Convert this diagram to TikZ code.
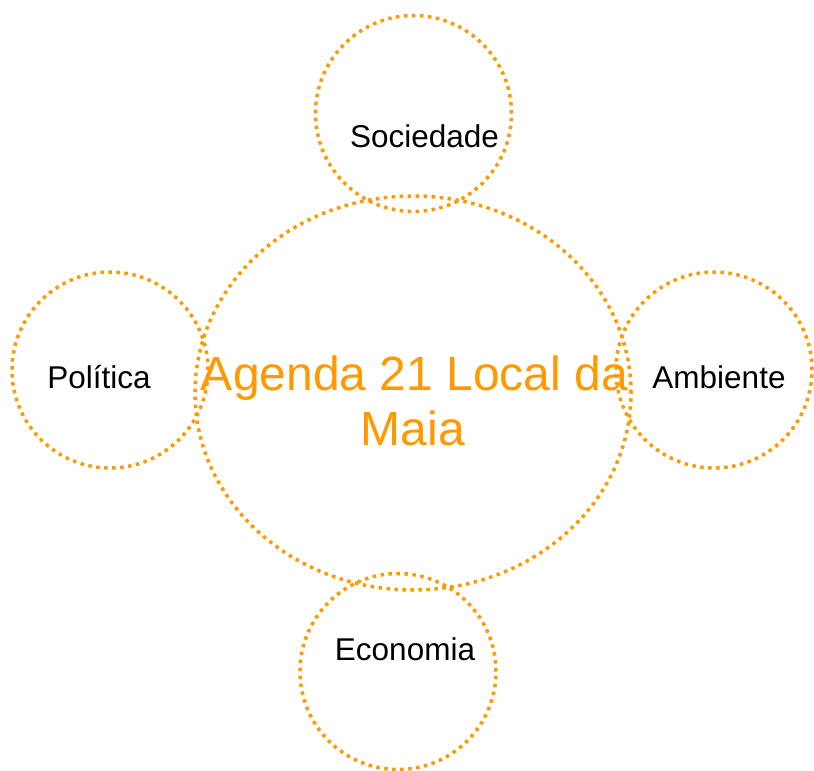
\documentclass[tikz,border=0pt]{standalone}
\usepackage{fontspec}
\setmainfont{Liberation Sans}
\usetikzlibrary{shapes.geometric}
\definecolor{agendaorange}{RGB}{255,153,0}
\begin{document}
\begin{tikzpicture}
[x=1pt,y=-1pt,
  circledecorate/.style={shape=circle,inner sep=0pt,minimum size=196pt,draw=agendaorange,line width=3.5pt,dash pattern=on 3.5pt off 4.5pt},%
  ellipsedecorate/.style={shape=ellipse,inner sep=0pt,minimum width=436pt,minimum height=394pt,draw=agendaorange,line width=3.5pt,dash pattern=on 3.5pt off 4.5pt},%
  labeldecorate/.style={anchor=base,inner sep=0pt,font=\fontsize{31.5}{36}\selectfont},%
  titledecorate/.style={anchor=base,inner sep=0pt,text=agendaorange,font=\fontsize{48}{55}\selectfont}]
\useasboundingbox (0,0) rectangle (814,771);
% circles and ellipse
\node (agenda) at (413,393) [ellipsedecorate] {};
\node (sociedade) at (413.5,113.5) [circledecorate] {};
\node (politica) at (110,370) [circledecorate] {};
\node (ambiente) at (714,370) [circledecorate] {};
\node (economia) at (398,671.5) [circledecorate] {};
% texts
\node (agendatxt) at (414.5,390) [titledecorate] {Agenda 21 Local da};
\node (maiatxt) at (413,445) [titledecorate] {Maia};
\node (sociedadetxt) at (424.5,147) [labeldecorate] {Sociedade};
\node (politicatxt) at (99,388) [labeldecorate] {Política};
\node (ambientetxt) at (719,388) [labeldecorate] {Ambiente};
\node (economiatxt) at (405,660) [labeldecorate] {Economia};
\end{tikzpicture}
\end{document}
